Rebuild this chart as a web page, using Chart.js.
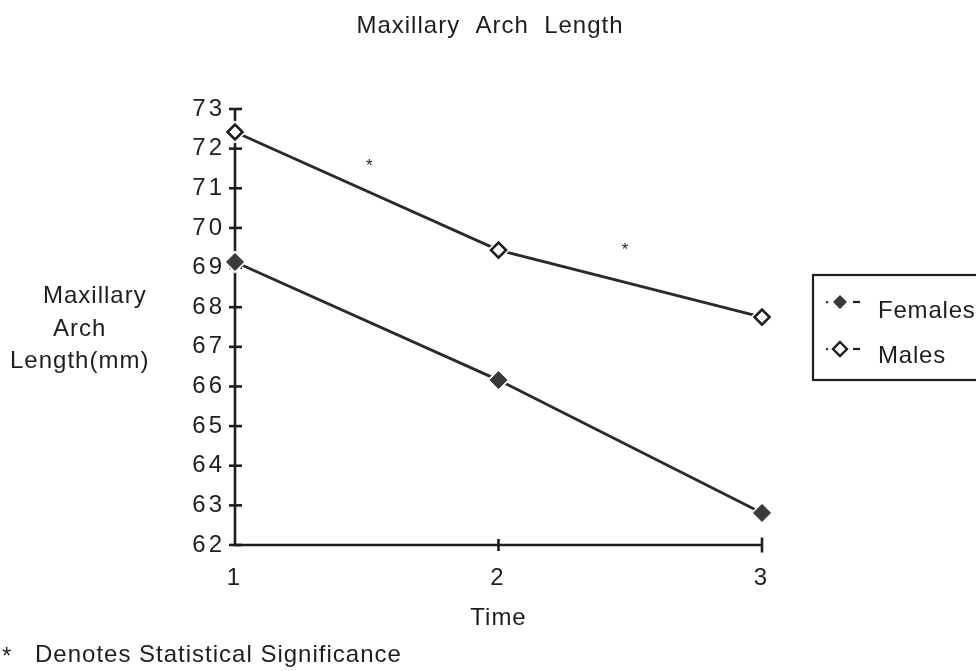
<!DOCTYPE html>
<html><head><meta charset="utf-8">
<script src="https://cdn.jsdelivr.net/npm/chart.js@4"></script>
<style>html,body{margin:0;padding:0;background:#fff}#wrap{width:976px;height:671px}</style>
</head><body><div id="wrap"><canvas id="c" width="976" height="671"></canvas></div>
<script>
const timePoints = [1, 2, 3];
const femalesValues = [69.14, 66.16, 62.81];
const malesValues = [72.42, 69.44, 67.75];
const yTickValues = [62, 63, 64, 65, 66, 67, 68, 69, 70, 71, 72, 73];
const xTickValues = [1, 2, 3];
const significanceMarks = [[1.51, 71.6], [2.48, 69.5]];
const titleText = 'Maxillary  Arch  Length';
const yLabelLines = ['Maxillary', 'Arch', 'Length(mm)'];
const xLabelText = 'Time';
const footnoteText = 'Denotes Statistical Significance';
const legendLabels = ['Females', 'Males'];

const FONT = '"Liberation Sans", Arial, sans-serif';
const INK = '#1e1e1e';
const pts = vals => timePoints.map((t, i) => ({x: t, y: vals[i]}));

const axesPlugin = {
  id: 'axesPlugin',
  beforeDraw(chart) { chart.ctx.letterSpacing = '3px'; },
  beforeDatasetsDraw(chart) {
    const ctx = chart.ctx;
    const xs = chart.scales.x, ys = chart.scales.y;
    const ax = xs.getPixelForValue(1), ay = ys.getPixelForValue(62);
    const topY = ys.getPixelForValue(73), rightX = xs.getPixelForValue(3);
    ctx.save();
    ctx.strokeStyle = INK; ctx.lineWidth = 2.6; ctx.lineCap = 'butt';
    ctx.beginPath(); ctx.moveTo(ax, topY); ctx.lineTo(ax, ay + 1); ctx.moveTo(ax - 1, ay); ctx.lineTo(rightX, ay); ctx.stroke();
    yTickValues.forEach(v => {
      const p = ys.getPixelForValue(v);
      ctx.beginPath(); ctx.moveTo(ax - 6, p); ctx.lineTo(ax + 7, p); ctx.stroke();
    });
    xTickValues.forEach((v, i) => {
      if (i === 0) return;
      const p = xs.getPixelForValue(v);
      const h = i === xTickValues.length - 1 ? 7.5 : 6;
      ctx.beginPath(); ctx.moveTo(p, ay - h); ctx.lineTo(p, ay + h); ctx.stroke();
    });
    ctx.restore();
  },
  afterDraw(chart) {
    const ctx = chart.ctx;
    const xs = chart.scales.x, ys = chart.scales.y;
    ctx.save();
    ctx.fillStyle = INK; ctx.strokeStyle = INK;
    ctx.letterSpacing = '1px';
    ctx.font = '24px ' + FONT;
    ctx.textBaseline = 'alphabetic';
    ctx.textAlign = 'center';
    ctx.fillText(titleText, 490, 33);
    ctx.fillText(xLabelText, xs.getPixelForValue(2), 625);
    ctx.textAlign = 'left';
    const lx = [43, 53, 10], lb = [303, 336, 368];
    yLabelLines.forEach((t, i) => ctx.fillText(t, lx[i], lb[i]));
    // footnote
    ctx.fillText('*', 2, 664);
    ctx.fillText(footnoteText, 35, 662);
    // significance asterisks
    ctx.textAlign = 'center';
    ctx.font = '17px ' + FONT;
    ctx.letterSpacing = '0px';
    significanceMarks.forEach(m => ctx.fillText('*', xs.getPixelForValue(m[0]), ys.getPixelForValue(m[1]) + 7));
    // legend
    ctx.lineWidth = 2.2;
    ctx.strokeRect(813, 275, 190, 105);
    ctx.font = '24px ' + FONT;
    ctx.letterSpacing = '0.8px';
    ctx.textAlign = 'left';
    const rows = [[302, 318, true], [349, 363, false]];
    rows.forEach((r, i) => {
      const y = r[0];
      ctx.fillStyle = '#333';
      ctx.fillRect(826, y - 1, 2.2, 2.2);
      ctx.lineWidth = 2.2;
      ctx.beginPath(); ctx.moveTo(853, y); ctx.lineTo(860, y); ctx.stroke();
      ctx.beginPath();
      ctx.moveTo(840, y - 7); ctx.lineTo(847, y); ctx.lineTo(840, y + 7); ctx.lineTo(833, y); ctx.closePath();
      if (r[2]) { ctx.fillStyle = '#3a3a3a'; ctx.fill(); }
      else { ctx.fillStyle = '#fff'; ctx.fill(); ctx.lineWidth = 2.4; ctx.stroke(); }
      ctx.fillStyle = INK;
      ctx.fillText(legendLabels[i], 878, r[1]);
    });
    ctx.restore();
  }
};

const lineDs = (vals) => ({ data: pts(vals), borderColor: '#2a2a2a', borderWidth: 2.8, pointRadius: 0, tension: 0, order: 3, clip: false });
const haloDs = (vals) => ({ data: pts(vals), showLine: false, pointStyle: 'rectRot', pointRadius: 11.5, pointBackgroundColor: '#fff', pointBorderWidth: 0, pointBorderColor: '#fff', order: 2, clip: false });

new Chart(document.getElementById('c'), {
  type: 'line',
  data: {
    datasets: [
      lineDs(femalesValues), lineDs(malesValues),
      haloDs(femalesValues), haloDs(malesValues),
      { label: legendLabels[0], data: pts(femalesValues), showLine: false, pointStyle: 'rectRot', pointRadius: 8.5,
        pointBackgroundColor: '#3a3a3a', pointBorderColor: '#333', pointBorderWidth: 1, order: 1, clip: false },
      { label: legendLabels[1], data: pts(malesValues), showLine: false, pointStyle: 'rectRot', pointRadius: 7.5,
        pointBackgroundColor: '#fff', pointBorderColor: '#1e1e1e', pointBorderWidth: 2.6, order: 1, clip: false }
    ]
  },
  options: {
    responsive: false, animation: false, devicePixelRatio: 1,
    layout: { padding: { left: 0, top: 109, right: 214, bottom: 0 } },
    plugins: { legend: { display: false }, tooltip: { enabled: false }, title: { display: false } },
    scales: {
      x: { type: 'linear', min: 1, max: 3,
        afterFit(s) { s.height = 126; },
        afterBuildTicks(s) { s.ticks = xTickValues.map(v => ({value: v})); },
        grid: { display: false, drawTicks: false }, border: { display: false },
        ticks: { color: INK, font: { family: FONT, size: 24 }, padding: 19 } },
      y: { type: 'linear', min: 62, max: 73,
        afterFit(s) { s.width = 235; },
        afterBuildTicks(s) { s.ticks = yTickValues.map(v => ({value: v})); },
        grid: { display: false, drawTicks: false }, border: { display: false },
        ticks: { color: INK, font: { family: FONT, size: 24 }, padding: 10 } }
    }
  },
  plugins: [axesPlugin]
});
</script></body></html>
